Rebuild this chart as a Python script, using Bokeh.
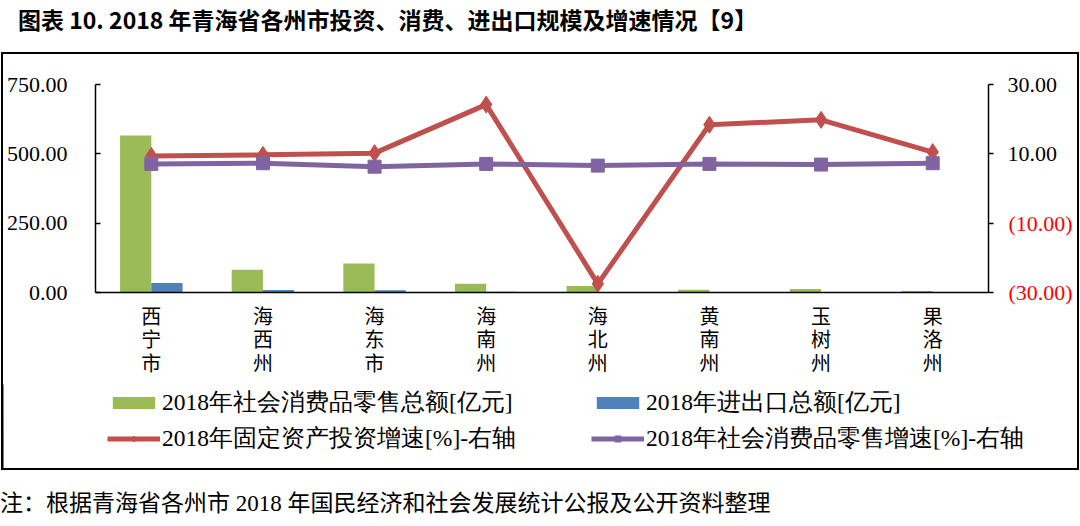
from bokeh.plotting import figure
from bokeh.models import (Range1d, LinearAxis, FixedTicker, Legend, LegendItem, Div,
                          ColumnDataSource)
from bokeh.layouts import column, row
from bokeh.embed import file_html
from bokeh.resources import INLINE
from bokeh.transform import dodge

cities = ["西宁市", "海西州", "海东市", "海南州", "海北州", "黄南州", "玉树州", "果洛州"]
retail_sales = [566, 82, 105, 32, 23, 10, 13, 5]          # 亿元
trade_total = [34, 9, 8, 3, 0.6, 0.4, 0.3, 0.2]           # 亿元
fixed_invest_growth = [9.4, 9.7, 10.2, 24.2, -27.5, 18.4, 19.8, 10.5]  # %
retail_growth = [7.1, 7.3, 6.3, 7.1, 6.6, 7.1, 6.9, 7.3]  # %
left_ticks = [0, 250, 500, 750]
right_ticks = [-30, -10, 10, 30]
series_names = ["2018年社会消费品零售总额[亿元]", "2018年进出口总额[亿元]",
                "2018年固定资产投资增速[%]-右轴", "2018年社会消费品零售增速[%]-右轴"]
title_text = "图表 10. 2018 年青海省各州市投资、消费、进出口规模及增速情况【9】"
note_text = "注：根据青海省各州市 2018 年国民经济和社会发展统计公报及公开资料整理"

GREEN, BLUE, RED, PURPLE = "#9BBB59", "#4F81BD", "#C0504D", "#8064A2"
SERIF = "Liberation Serif"
CJK = "Noto Sans CJK SC"

idx = list(range(len(cities)))
src = ColumnDataSource(dict(idx=idx, retail=retail_sales, trade=trade_total,
                            fig=fixed_invest_growth, rg=retail_growth))


def add_series(fig):
    b1 = fig.vbar(x=dodge("idx", -0.14, range=fig.x_range), top="retail", width=0.28,
                  source=src, fill_color=GREEN, line_color=None)
    b2 = fig.vbar(x=dodge("idx", 0.14, range=fig.x_range), top="trade", width=0.28,
                  source=src, fill_color=BLUE, line_color=None)
    l1 = fig.line("idx", "fig", y_range_name="right", source=src, line_color=RED, line_width=5)
    m1 = fig.scatter("idx", "fig", y_range_name="right", source=src, marker="diamond",
                     size=17, fill_color=RED, line_color=RED)
    l2 = fig.line("idx", "rg", y_range_name="right", source=src, line_color=PURPLE, line_width=5)
    m2 = fig.scatter("idx", "rg", y_range_name="right", source=src, marker="square",
                     size=13, fill_color=PURPLE, line_color=PURPLE)
    return b1, b2, l1, m1, l2, m2


# ---------------- chart ----------------
p = figure(width=1074, height=330, output_backend="svg", toolbar_location=None,
           x_range=Range1d(-0.5, len(cities) - 0.5), y_range=Range1d(0, 750),
           min_border_left=92, min_border_right=89, min_border_top=30, min_border_bottom=92)
p.outline_line_color = None
p.grid.grid_line_color = None
p.background_fill_color = "white"
p.border_fill_color = "white"
p.extra_y_ranges = {"right": Range1d(-30, 30)}

ya = p.yaxis[0]
ya.ticker = FixedTicker(ticks=left_ticks)
ya.major_label_overrides = {t: f"{t:.2f}" for t in left_ticks}
ya.major_label_text_font = SERIF
ya.major_label_text_font_size = "22px"
ya.major_label_text_color = "black"
ya.major_tick_in = 5
ya.major_tick_out = 0
ya.minor_tick_line_color = None
ya.major_label_standoff = 28
ya.axis_line_width = 1.5
ya.major_tick_line_width = 1.5

xa = p.xaxis[0]
xa.ticker = FixedTicker(ticks=idx)
xa.major_label_overrides = {i: "\n".join(list(c)) for i, c in zip(idx, cities)}
xa.major_label_text_font = CJK
xa.major_label_text_font_size = "20px"
xa.major_label_text_line_height = 0.82
xa.major_label_text_color = "black"
xa.major_tick_line_color = None
xa.minor_tick_line_color = None
xa.major_label_standoff = 2
xa.axis_line_width = 1.5

ra = LinearAxis(y_range_name="right")
ra.ticker = FixedTicker(ticks=right_ticks)
ra.major_label_overrides = {t: (f"{t:.2f}" if t > 0 else "") for t in right_ticks}
ra.major_label_text_font = SERIF
ra.major_label_text_font_size = "22px"
ra.major_label_text_color = "black"
ra.major_tick_in = 0
ra.major_tick_out = 5
ra.minor_tick_line_color = None
ra.major_label_standoff = 14
ra.axis_line_width = 1.5
ra.major_tick_line_width = 1.5
p.add_layout(ra, "right")

neg_ticks = [t for t in right_ticks if t < 0]
ra2 = LinearAxis(y_range_name="right")
ra2.ticker = FixedTicker(ticks=neg_ticks)
ra2.major_label_overrides = {t: f"({abs(t):.2f})" for t in neg_ticks}
ra2.major_label_text_font = SERIF
ra2.major_label_text_font_size = "22px"
ra2.major_label_text_color = "red"
ra2.axis_line_color = None
ra2.major_tick_line_color = None
ra2.minor_tick_line_color = None
ra2.major_tick_in = 0
ra2.major_tick_out = 0
ra2.major_label_standoff = -52
p.add_layout(ra2, "right")

add_series(p)

# ---------------- legend strip ----------------
q = figure(width=1074, height=84, output_backend="svg", toolbar_location=None,
           x_range=Range1d(100, 101), y_range=Range1d(0, 1),
           x_axis_location=None, y_axis_location=None,
           min_border_left=0, min_border_right=0, min_border_top=0, min_border_bottom=0)
q.extra_y_ranges = {"right": Range1d(-30, 30)}
q.grid.grid_line_color = None
q.outline_line_color = None
q.background_fill_color = "white"
q.border_fill_color = "white"
qb1, qb2, ql1, qm1, ql2, qm2 = add_series(q)


def mk_legend(items, loc):
    lg = Legend(items=items, location=loc, orientation="vertical")
    lg.label_text_font = SERIF
    lg.label_text_font_size = "23.5px"
    lg.label_text_color = "black"
    lg.glyph_width = 53
    lg.glyph_height = 15
    lg.label_height = 22
    lg.label_standoff = 2
    lg.spacing = 4
    lg.padding = 0
    lg.margin = 0
    lg.border_line_color = None
    lg.background_fill_alpha = 0
    return lg


q.add_layout(mk_legend([LegendItem(label=series_names[0], renderers=[qb1]),
                        LegendItem(label=series_names[2], renderers=[ql1, qm1])], (104, 14)),
             "center")
q.add_layout(mk_legend([LegendItem(label=series_names[1], renderers=[qb2]),
                        LegendItem(label=series_names[3], renderers=[ql2, qm2])], (588, 14)),
             "center")

box = column(p, row(q, margin=0), spacing=0, margin=(0, 0, 0, 1))
box.styles = {"border": "2px solid #000"}

title = Div(text=f'<div style="font: bold 23px \'{CJK}\'; padding-left:18px; line-height:38px; white-space:nowrap">{title_text}</div>',
            width=1080, height=52, margin=0)
note = Div(text=f'<div style="font: 23px \'{SERIF}\', \'{CJK}\'; padding-top:18px; line-height:32px; white-space:nowrap">{note_text}</div>',
           width=1080, height=52, margin=0)

layout = column(title, box, note, spacing=0)
open("out.html", "w").write(file_html(layout, INLINE))
